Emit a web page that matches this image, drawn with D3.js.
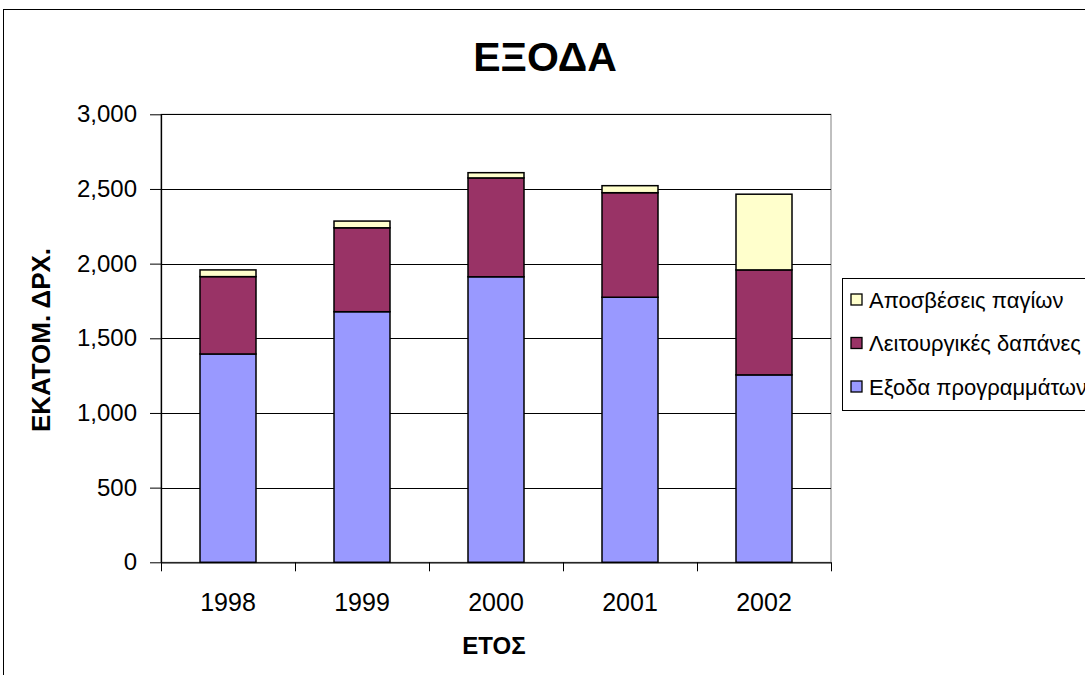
<!DOCTYPE html>
<html>
<head>
<meta charset="utf-8">
<script src="https://cdn.jsdelivr.net/npm/d3@7"></script>
<style>
  html, body { margin: 0; padding: 0; background: #fff; }
  svg { display: block; font-family: "Liberation Sans", Arial, sans-serif; }
</style>
</head>
<body>
<svg id="chart" width="1085" height="675"></svg>
<script>
// Expenses by year, in millions of drachmas
const years = ["1998", "1999", "2000", "2001", "2002"];
const programmeCosts = [1395, 1678, 1912, 1775, 1255];   // Εξοδα προγραμμάτων
const operatingCosts = [518, 562, 662, 700, 703];        // Λειτουργικές δαπάνες
const depreciation = [45, 45, 35, 47, 507];              // Αποσβέσεις παγίων
const seriesNames = ["Εξοδα προγραμμάτων", "Λειτουργικές δαπάνες", "Αποσβέσεις παγίων"];
const yTicks = [0, 500, 1000, 1500, 2000, 2500, 3000];

const colors = ["#9999FF", "#993366", "#FFFFCC"];

const svg = d3.select("#chart");
const W = 1085, H = 675;

svg.append("rect").attr("width", W).attr("height", H).attr("fill", "#fff");

// Chart area frame (runs past the right and bottom edges)
svg.append("rect")
  .attr("x", 3.5).attr("y", 9.5)
  .attr("width", W + 10).attr("height", H + 10)
  .attr("fill", "none").attr("stroke", "#000").attr("stroke-width", 1);

const plot = { left: 161, right: 831, top: 114.3, bottom: 562.3 };

const x = d3.scaleBand().domain(years).range([plot.left, plot.right]).padding(0);
const y = d3.scaleLinear().domain([0, 3000]).range([plot.bottom, plot.top]);

// Plot area border
svg.append("rect")
  .attr("x", plot.left).attr("y", plot.top)
  .attr("width", plot.right - plot.left).attr("height", plot.bottom - plot.top)
  .attr("fill", "none").attr("stroke", "#808080").attr("stroke-width", 1);

// Horizontal gridlines
svg.append("g")
  .selectAll("line")
  .data(yTicks.filter(d => d > 0))
  .join("line")
  .attr("x1", plot.left).attr("x2", plot.right)
  .attr("y1", d => Math.round(y(d)) + 0.5).attr("y2", d => Math.round(y(d)) + 0.5)
  .attr("stroke", "#000").attr("stroke-width", 1);

// Stacked bars
const table = years.map((yr, i) => ({
  year: yr,
  s0: programmeCosts[i],
  s1: operatingCosts[i],
  s2: depreciation[i]
}));
const stack = d3.stack().keys(["s0", "s1", "s2"]);
const layers = stack(table);
const barW = 56;

svg.append("g")
  .selectAll("g")
  .data(layers)
  .join("g")
  .attr("fill", (d, i) => colors[i])
  .selectAll("rect")
  .data(d => d)
  .join("rect")
  .attr("x", d => x(d.data.year) + x.bandwidth() / 2 - barW / 2)
  .attr("y", d => y(d[1]))
  .attr("width", barW)
  .attr("height", d => y(d[0]) - y(d[1]))
  .attr("stroke", "#000").attr("stroke-width", 1.5);

// Y axis
const yAxis = d3.axisLeft(y)
  .tickValues(yTicks)
  .tickFormat(d3.format(","))
  .tickSizeInner(11).tickSizeOuter(0).tickPadding(13);
const gy = svg.append("g").attr("transform", `translate(${plot.left},0)`).call(yAxis);
gy.select(".domain").attr("stroke", "#000").attr("stroke-width", 1.3);
gy.selectAll(".tick line").attr("stroke", "#000");
gy.selectAll(".tick text")
  .attr("font-size", 24).attr("fill", "#000")
  .attr("font-family", "'Liberation Sans', Arial, sans-serif");

// X axis with ticks at category boundaries
const xAxis = d3.axisBottom(x).tickSize(0).tickPadding(31);
const gx = svg.append("g").attr("transform", `translate(0,${plot.bottom})`).call(xAxis);
gx.select(".domain").attr("stroke", "#000").attr("stroke-width", 1.3);
gx.selectAll(".tick text")
  .attr("font-size", 25).attr("fill", "#000")
  .attr("font-family", "'Liberation Sans', Arial, sans-serif");
const bounds = years.map(d => x(d)).concat([x(years[years.length - 1]) + x.bandwidth()]);
svg.append("g")
  .selectAll("line")
  .data(bounds)
  .join("line")
  .attr("x1", d => Math.round(d) + 0.5).attr("x2", d => Math.round(d) + 0.5)
  .attr("y1", plot.bottom).attr("y2", plot.bottom + 9)
  .attr("stroke", "#000").attr("stroke-width", 1);

// Title
svg.append("text")
  .attr("x", 545).attr("y", 71)
  .attr("text-anchor", "middle")
  .attr("font-size", 41).attr("font-weight", "bold")
  .text("ΕΞΟΔΑ");

// Axis titles
svg.append("text")
  .attr("transform", "translate(50,340) rotate(-90)")
  .attr("text-anchor", "middle")
  .attr("font-size", 26).attr("font-weight", "bold")
  .text("ΕΚΑΤΟΜ. ΔΡΧ.");

svg.append("text")
  .attr("x", 494).attr("y", 654)
  .attr("text-anchor", "middle")
  .attr("font-size", 24).attr("font-weight", "bold")
  .text("ΕΤΟΣ");

// Legend (top entry is the top of the stack)
const legend = svg.append("g");
legend.append("rect")
  .attr("x", 842.5).attr("y", 278.5)
  .attr("width", 300).attr("height", 132)
  .attr("fill", "#fff").attr("stroke", "#000").attr("stroke-width", 1);

const legendItems = [2, 1, 0];
const li = legend.selectAll("g.item")
  .data(legendItems)
  .join("g")
  .attr("class", "item")
  .attr("transform", (d, i) => `translate(0,${300 + i * 43.5})`);
li.append("rect")
  .attr("x", 851).attr("y", -6)
  .attr("width", 11).attr("height", 11)
  .attr("fill", d => colors[d]).attr("stroke", "#000").attr("stroke-width", 1.3);
li.append("text")
  .attr("x", 869).attr("y", 0)
  .attr("dy", "0.36em")
  .attr("font-size", 22)
  .text(d => seriesNames[d]);
</script>
</body>
</html>
